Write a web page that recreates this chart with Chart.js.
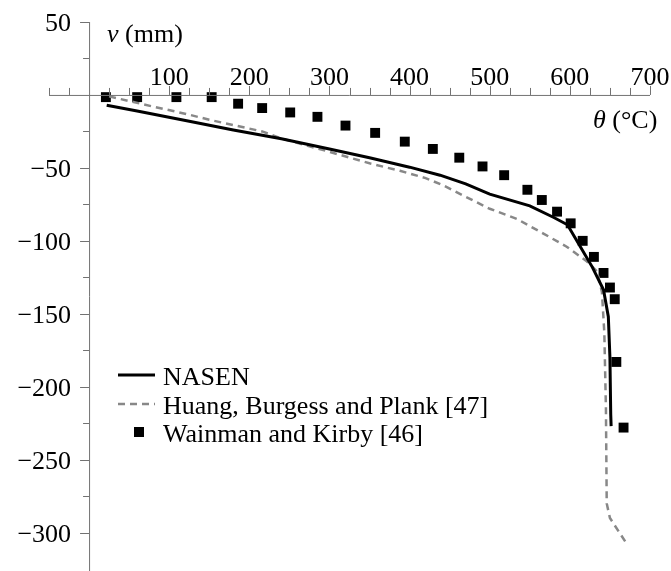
<!DOCTYPE html>
<html>
<head>
<meta charset="utf-8">
<script src="https://cdn.jsdelivr.net/npm/chart.js@4.4.1/dist/chart.umd.min.js"></script>
<style>
  body { margin: 0; background: #fff; }
  #wrap { width: 671px; height: 571px; }
</style>
</head>
<body>
<div id="wrap"><canvas id="grafico" width="671" height="571"></canvas></div>
<script>
// dados (temperatura em °C, deslocamento em mm)
const seriesNames = ['NASEN', 'Huang, Burgess and Plank [47]', 'Wainman and Kirby [46]'];

const nasenTemp = [22, 60, 125, 180, 240, 300, 350, 400, 438, 470, 500, 550, 580, 597, 612, 628, 642, 648, 650, 651, 651.5];
const nasenDefl = [-7, -11, -18, -24, -30, -37, -43, -49.5, -55, -61, -68, -76, -84, -89, -103, -118, -133.5, -152, -180, -219, -227];

const huangTemp = [25, 80, 121, 150, 183, 216, 241, 300, 351, 388, 420, 442, 467, 500, 534, 567, 596, 621, 634, 640, 643, 645, 646, 650, 669];
const huangDefl = [-1, -8, -13, -17, -21, -25, -30, -39, -47, -52, -57, -62, -69, -78, -85, -95, -104, -114, -121, -135, -163, -215, -280, -290, -306];

const wainmanTemp = [21, 60, 109, 153, 186, 216, 251, 285, 320, 357, 394, 429, 462, 491, 518, 547, 565, 584, 601, 616, 630, 642, 650, 656, 658, 667];
const wainmanDefl = [-1.5, -1.5, -1.5, -1.5, -6, -9, -12, -15, -21, -26, -32, -37, -43, -49, -55, -65, -72, -80, -88, -100, -111, -122, -132, -140, -183, -228];

const xTickLabels = [100, 200, 300, 400, 500, 600, 700];
const yTickLabels = [50, -50, -100, -150, -200, -250, -300];

function pares(xs, ys) { // junta x e y em pontos
    return xs.map((x, i) => ({ x: x, y: ys[i] }));
}

const fonte = "26px 'Liberation Serif', 'Times New Roman', serif";
const fonteItalico = "italic 26px 'Liberation Serif', 'Times New Roman', serif";
const corEixo = '#727272';

// plugin que desenha os eixos cruzando no zero e a legenda
const eixos = {
    id: 'eixos',
    afterDraw(chart) {
        const ctx = chart.ctx;
        const xs = chart.scales.x, ys = chart.scales.y;
        const x0 = xs.getPixelForValue(0);
        const y0 = ys.getPixelForValue(0);
        ctx.save();
        ctx.strokeStyle = corEixo;
        ctx.lineWidth = 1;

        // eixo x
        ctx.beginPath();
        ctx.moveTo(xs.getPixelForValue(-50), y0 + 0.5);
        ctx.lineTo(xs.getPixelForValue(700), y0 + 0.5);
        for (let v = -50; v <= 700; v += 25) {
            if (v === 0) continue;
            const px = Math.round(xs.getPixelForValue(v)) + 0.5;
            const len = (v % 100 === 0 && v > 0) ? 9 : 7;
            ctx.moveTo(px, y0);
            ctx.lineTo(px, y0 - len);
        }
        // eixo y
        ctx.moveTo(x0 + 0.5, ys.getPixelForValue(50));
        ctx.lineTo(x0 + 0.5, chart.height);
        for (let v = 50; v >= -300; v -= 25) {
            if (v === 0) continue;
            const py = Math.round(ys.getPixelForValue(v)) + 0.5;
            const len = (v % 50 === 0) ? 9 : 6;
            ctx.moveTo(x0, py);
            ctx.lineTo(x0 - len, py);
        }
        ctx.stroke();

        // rotulos
        ctx.fillStyle = '#000';
        ctx.font = fonte;
        ctx.textAlign = 'center';
        ctx.textBaseline = 'alphabetic';
        xTickLabels.forEach(v => {
            ctx.fillText(String(v), xs.getPixelForValue(v), y0 - 10);
        });
        ctx.textAlign = 'right';
        yTickLabels.forEach(v => {
            const txt = v < 0 ? '\u2212' + Math.abs(v) : String(v);
            ctx.fillText(txt, x0 - 18, ys.getPixelForValue(v) + 9);
        });

        // titulos dos eixos
        ctx.textAlign = 'left';
        ctx.font = fonteItalico;
        ctx.fillText('v', 107, 42);
        let w = ctx.measureText('v ').width;
        ctx.font = fonte;
        ctx.fillText('(mm)', 107 + w, 42);

        ctx.font = fonteItalico;
        ctx.fillText('\u03b8', 593, 128);
        w = ctx.measureText('\u03b8 ').width;
        ctx.font = fonte;
        ctx.fillText('(\u00b0C)', 593 + w, 128);

        // legenda
        const ds = chart.data.datasets;
        const lx = 118, baseY = [385, 414, 442];
        ds.forEach((d, i) => {
            const cy = baseY[i] - 10;
            ctx.save();
            if (d.showLine) {
                ctx.strokeStyle = d.borderColor;
                ctx.lineWidth = d.borderWidth;
                ctx.setLineDash(d.borderDash || []);
                ctx.beginPath();
                ctx.moveTo(lx, cy);
                ctx.lineTo(lx + 37, cy);
                ctx.stroke();
            } else {
                ctx.fillStyle = d.backgroundColor;
                ctx.fillRect(lx + 16, cy - 5, 10, 10);
            }
            ctx.restore();
            ctx.font = fonte;
            ctx.fillStyle = '#000';
            ctx.fillText(d.label, 163, baseY[i]);
        });
        ctx.restore();
    }
};

const ctx = document.getElementById('grafico');
const myChart = new Chart(ctx, {
    type: 'scatter',
    data: {
        datasets: [{
            label: seriesNames[0],
            data: pares(nasenTemp, nasenDefl),
            showLine: true,
            borderColor: '#000',
            borderWidth: 3,
            pointRadius: 0,
            tension: 0
        }, {
            label: seriesNames[1],
            data: pares(huangTemp, huangDefl),
            showLine: true,
            borderColor: '#888888',
            borderWidth: 2.5,
            borderDash: [7, 5],
            pointRadius: 0,
            tension: 0
        }, {
            label: seriesNames[2],
            data: pares(wainmanTemp, wainmanDefl),
            showLine: false,
            pointStyle: 'rect',
            pointRadius: 7,
            borderWidth: 0,
            backgroundColor: '#000',
            borderColor: '#000'
        }]
    },
    options: {
        responsive: false,
        animation: false,
        layout: { padding: { left: 49, right: 21, top: 22, bottom: 0 } },
        plugins: {
            legend: { display: false },
            tooltip: { enabled: false }
        },
        scales: {
            x: { type: 'linear', min: -50, max: 700, display: false },
            y: { type: 'linear', min: -321.5, max: 50, display: false }
        }
    },
    plugins: [eixos]
});
</script>
</body>
</html>
